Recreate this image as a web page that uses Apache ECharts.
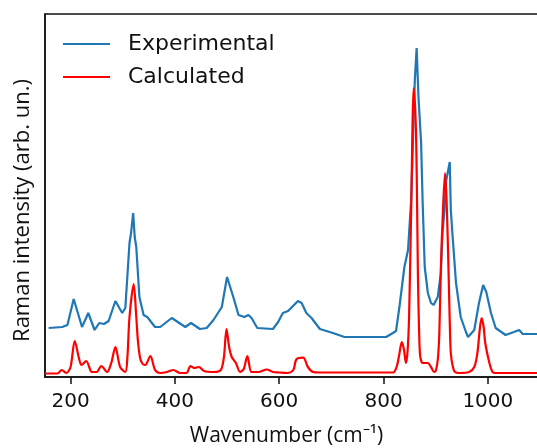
<!DOCTYPE html>
<html>
<head>
<meta charset="utf-8">
<script src="https://cdn.jsdelivr.net/npm/echarts@6/dist/echarts.min.js"></script>
<style>html,body{margin:0;padding:0;background:#fff}#c{width:537px;height:448px}</style>
</head>
<body>
<div id="c"></div>
<script>
// Experimental spectrum (wavenumber, intensity arb. un.)
const expWave = [158,184,194,206,222,234,246,255,264,273,286,299,305,313,316,320,323,326,332,340,347,362,372,394,420,431,448,461,474,490,500,512,522,533,541,547,558,588,598,607,617,636,643,652,662,678,703,725,805,818,824,831,840,847,853,860,863.5,867,872,875,879,885,891,896,904,910,913,917,920,927,929,932,939,948,958,962,974,983,991,997,1006,1015,1034,1050,1060,1067,1100];
const expInt  = [49,50,52,78,50,64,47,54,53,56,76,64,69,134,144,164,140,130,80,62,60,50,50,59,50,54,48,49,57,70,100,80,62,60,62,59,49,48,55,64,66,76,74,64,59,48,44,40,40,44,46,72,110,127,177,297,329,280,235,175,110,84,74,72,80,104,144,167,196,215,167,144,94,60,45,40,47,74,92,85,64,49,42,45,47,43,43];
// Calculated spectrum
const calcWave = [151,175,183,192,200,208,216,221,230,241,250,259,270,278,286,295,305,309,313,321,326,329,333,337,343,353,362,372,385,397,410,422,430,437,446,456,474,488,494,499,504,509,517,525,532,539,547,560,576,588,600,615,627,633,646,655,665,678,818,825,830,835,839,843,846,849,853,858,862,864.5,866,868,870,873,876,885,891,897,900,904,907,910,914,918,921,924,927,929,933,937,945,964,974,980,984,988,992,995,1003,1009,1015,1100];
const calcInt  = [3.5,3.5,7,4,10,36,19,12,16,5,5,11,5,14,30,10,5,20,60,93,60,37,20,14,12,21,7,4,5,7,4,4,11,9,10,6,5,7,20,48,30,20,14,5,8,21,5,5,7.5,5,4.5,4,7,17.7,19.3,10,5,4.5,4.5,10,22,35,28,14,25,60,167,289,250,167,100,50,22,15,14,14,10,5,6,17,44,110,167,204,175,120,55,24,10,5,4,5,10,24,45,59,50,34,14,5,4,4];
const xTicks = [200,400,600,800,1000];
const seriesNames = ['Experimental','Calculated'];

const pair = (xs, ys) => xs.map((x,i)=>[x, ys[i]]);
const chart = echarts.init(document.getElementById('c'), null, {renderer:'canvas'});
chart.setOption({
  animation:false,
  backgroundColor:'#ffffff',
  grid:{left:45, top:14, right:-3, bottom:71, show:true, borderColor:'#111', borderWidth:1.5, backgroundColor:'transparent',
    containLabel:false, outerBoundsMode:'none'},
  legend:{
    orient:'vertical', left:58, top:28, itemWidth:47, itemHeight:2, itemGap:11, icon:'rect',
    data:seriesNames,
    textStyle:{fontFamily:'DejaVu Sans', fontSize:22, color:'#111', lineHeight:22, padding:[0,0,0,13]}
  },
  xAxis:{
    type:'value', min:151, max:1100,
    name:'Wavenumber (cm⁻¹)', nameLocation:'middle', nameGap:49,
    nameTextStyle:{fontFamily:'Open Sans', fontSize:21, color:'#111', padding:[0,12,0,0]},
    axisLine:{show:true, lineStyle:{color:'#111', width:1.5}},
    axisTick:{show:true, length:7, lineStyle:{color:'#111', width:1.5}, customValues:xTicks},
    axisLabel:{show:true, fontFamily:'DejaVu Sans', fontSize:20, color:'#111', margin:15, customValues:xTicks,
      formatter:(v)=>String(v)},
    splitLine:{show:false}
  },
  yAxis:{
    type:'value', min:0, max:363,
    name:'Raman intensity (arb. un.)', nameLocation:'middle', nameGap:11, nameRotate:90,
    nameTextStyle:{fontFamily:'Open Sans', fontSize:22, color:'#111', padding:[0,30,0,0]},
    axisLine:{show:true, lineStyle:{color:'#111', width:1.5}},
    axisTick:{show:false}, axisLabel:{show:false}, splitLine:{show:false}
  },
  series:[
    {name:seriesNames[0], type:'line', data:pair(expWave, expInt), symbol:'none', smooth:false,
     lineStyle:{color:'#1f77b4', width:2.2}, itemStyle:{color:'#1f77b4'}},
    {name:seriesNames[1], type:'line', data:pair(calcWave, calcInt), symbol:'none', smooth:0.3,
     lineStyle:{color:'#ff0000', width:2.2}, itemStyle:{color:'#ff0000'}}
  ]
});
</script>
</body>
</html>
